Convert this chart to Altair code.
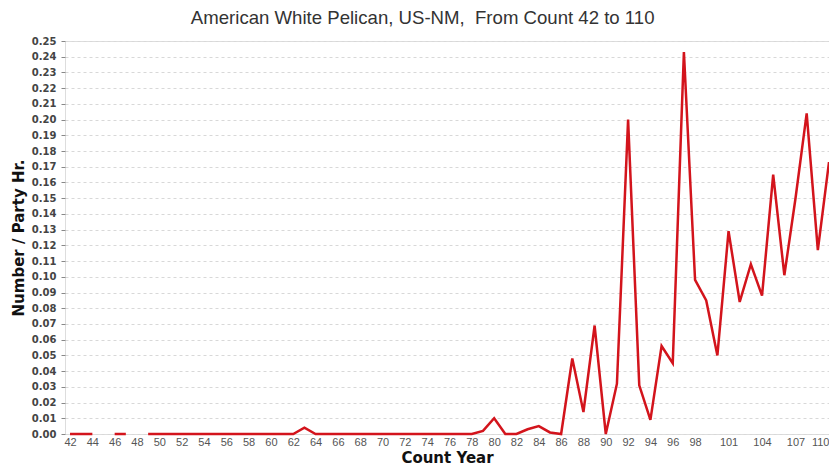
import altair as alt
import pandas as pd

counts = list(range(42, 111))
values = [
    0, 0, 0, None, 0, 0, None,                      # 42-48
    0, 0, 0, 0, 0, 0, 0, 0, 0, 0, 0, 0, 0, 0,       # 49-62
    0.004,                                          # 63
    0, 0, 0, 0, 0, 0, 0, 0, 0, 0, 0, 0, 0, 0, 0,    # 64-78
    0.002, 0.010, 0, 0, 0.003, 0.005, 0.001, 0,     # 79-86
    0.048, 0.014, 0.069, 0.0, 0.032, 0.200, 0.031, 0.009, 0.056, 0.045,  # 87-96
    0.243, 0.098, 0.085, 0.050,                     # 97-100
    0.129, 0.084, 0.108, 0.088, 0.165, 0.101, 0.150, 0.204, 0.117, 0.173,  # 101-110
]
x_ticks = [42, 44, 46, 48, 50, 52, 54, 56, 58, 60, 62, 64, 66, 68, 70, 72, 74, 76,
           78, 80, 82, 84, 86, 88, 90, 92, 94, 96, 98, 101, 104, 107, 110]
y_ticks = [0.00, 0.01, 0.02, 0.03, 0.04, 0.05, 0.06, 0.07, 0.08, 0.09, 0.10, 0.11, 0.12,
           0.13, 0.14, 0.15, 0.16, 0.17, 0.18, 0.19, 0.20, 0.21, 0.22, 0.23, 0.24, 0.25]

df = pd.DataFrame({"count": counts, "value": values})

FONT = "Liberation Sans"
WIDE = "DejaVu Sans"

chart = alt.Chart(df).mark_line(
    color="#d3141c", strokeWidth=2.5, invalid="break-paths-show-domains"
).encode(
    x=alt.X("count:Q",
            scale=alt.Scale(domain=[41.55, 110], nice=False, zero=False),
            axis=alt.Axis(values=x_ticks, title="Count Year", grid=False, domain=False,
                          ticks=False, labelFontSize=11, labelColor="#555",
                          labelFont=FONT, labelPadding=2, labelFlush=True,
                          labelOverlap=False, titleFont=WIDE, titleFontSize=15,
                          titleFontWeight="bold", titleColor="#111", titlePadding=3)),
    y=alt.Y("value:Q",
            scale=alt.Scale(domain=[0, 0.25], nice=False),
            axis=alt.Axis(values=y_ticks, format=".2f", title="Number / Party Hr.",
                          grid=True, gridDash=[3, 3], gridColor="#d8d8d8",
                          domain=False, tickColor="#888", tickSize=4,
                          labelFontSize=10, labelColor="#444", labelFont=WIDE,
                          labelFontWeight="bold", labelPadding=5,
                          titleFont=WIDE, titleFontSize=15, titleFontWeight="bold",
                          titleColor="#111", titlePadding=5)),
).properties(
    width=764,
    height=393,
    autosize=alt.AutoSizeParams(type="none"),
    padding={"left": 57, "top": 33, "right": 0, "bottom": 34},
    title=alt.TitleParams("American White Pelican, US-NM,\u00a0 From Count 42 to 110",
                          font=FONT, fontSize=18.6, fontWeight="normal",
                          color="#333", anchor="middle", frame="bounds", offset=8),
).configure_view(stroke=None).configure(background="white")

chart.save("out.html", embed_options={"renderer": "svg", "actions": False})
